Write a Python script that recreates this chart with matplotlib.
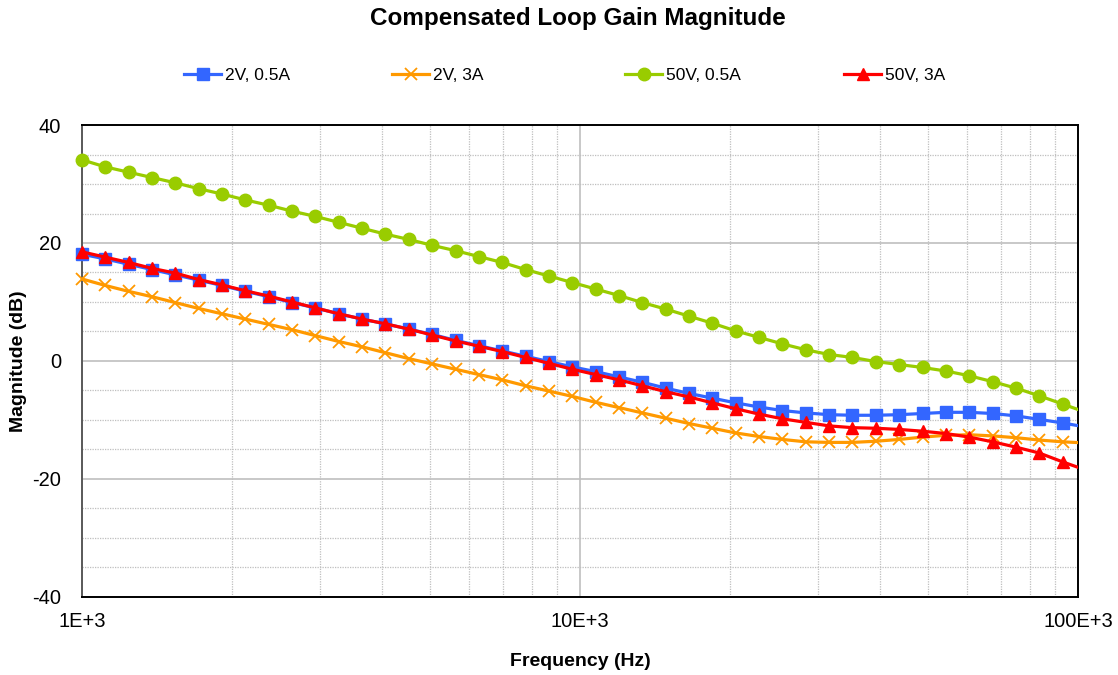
"""Compensated Loop Gain Magnitude"""

import matplotlib
matplotlib.use("Agg")
import matplotlib.pyplot as plt
from matplotlib.ticker import FixedLocator, NullFormatter

plt.rcParams['font.family'] = ['Liberation Sans', 'DejaVu Sans']
plt.rcParams['axes.unicode_minus'] = False

# 频率点 (Hz)
freq = [1000, 1114, 1241, 1382, 1540, 1716, 1911, 2129, 2372, 2642,
        2943, 3279, 3653, 4069, 4533, 5050, 5625, 6267, 6981, 7777,
        8663, 9651, 10751, 11977, 13342, 14863, 16557, 18445, 20548, 22890,
        25499, 28406, 31644, 35251, 39270, 43747, 48734, 54290, 60479, 67373,
        75054, 83610, 93141, 103759]

# 各工况的增益 (dB)
gain_2v_05a = [18.1, 17.3, 16.4, 15.5, 14.6, 13.7, 12.8, 11.8, 10.9, 9.9,
               9.0, 8.0, 7.1, 6.3, 5.4, 4.5, 3.5, 2.6, 1.7, 0.8,
               -0.1, -1.0, -1.8, -2.7, -3.6, -4.6, -5.5, -6.3, -7.1, -7.8,
               -8.4, -8.8, -9.1, -9.2, -9.2, -9.1, -8.9, -8.7, -8.7, -8.9,
               -9.3, -9.9, -10.5, -11.2]
gain_2v_3a = [13.9, 12.8, 11.8, 10.9, 9.9, 8.9, 8.0, 7.1, 6.2, 5.3,
              4.3, 3.3, 2.4, 1.4, 0.4, -0.5, -1.4, -2.3, -3.2, -4.2,
              -5.1, -6.0, -7.0, -7.9, -8.8, -9.7, -10.6, -11.4, -12.2, -12.8,
              -13.3, -13.7, -13.8, -13.8, -13.6, -13.3, -12.9, -12.6, -12.5, -12.7,
              -13.0, -13.4, -13.7, -13.9]
gain_50v_05a = [34.1, 32.9, 32.0, 31.1, 30.2, 29.2, 28.3, 27.3, 26.4, 25.4,
                24.5, 23.5, 22.5, 21.5, 20.6, 19.6, 18.7, 17.7, 16.7, 15.5,
                14.4, 13.3, 12.2, 11.1, 9.9, 8.8, 7.6, 6.4, 5.1, 4.0,
                2.9, 1.9, 1.1, 0.6, -0.1, -0.6, -1.1, -1.7, -2.5, -3.5,
                -4.6, -5.9, -7.3, -8.7]
gain_50v_3a = [18.5, 17.6, 16.7, 15.7, 14.9, 13.8, 12.9, 11.9, 11.0, 10.0,
               9.0, 8.0, 7.1, 6.3, 5.4, 4.4, 3.4, 2.5, 1.6, 0.6,
               -0.4, -1.4, -2.3, -3.2, -4.2, -5.2, -6.1, -7.1, -8.1, -9.0,
               -9.8, -10.4, -11.0, -11.3, -11.4, -11.6, -11.9, -12.3, -12.9, -13.7,
               -14.6, -15.6, -17.1, -18.5]

labels = ["2V, 0.5A", "2V, 3A", "50V, 0.5A", "50V, 3A"]
x_ticks = [1e3, 1e4, 1e5]
x_tick_labels = ["1E+3", "10E+3", "100E+3"]
y_ticks = [-40, -20, 0, 20, 40]

fig = plt.figure(figsize=(11.18, 6.75), dpi=100)
ax = fig.add_axes([0.0733, 0.1156, 0.8909, 0.6992])

lw = 2.3
# 线条裁剪在绘图区内, 标记点不裁剪 (最后一个点在 100E+3 之外, 不画标记)
styles = [
    (gain_2v_05a, '#3366FF', dict(marker='s', ms=8)),
    (gain_2v_3a, '#FF9900', dict(marker='x', ms=9, mew=1.3)),
    (gain_50v_05a, '#99CC00', dict(marker='o', ms=9)),
    (gain_50v_3a, '#FF0000', dict(marker='^', ms=9)),
]
handles = []
for i, (vals, c, mk) in enumerate(styles):
    z = 4 if i == 3 else 3
    ln, = ax.plot(freq, vals, color=c, lw=lw, zorder=z)
    pts, = ax.plot(freq, vals, color=c, ls='none', markevery=list(range(len(freq) - 1)),
                   clip_on=False, zorder=z + 0.1, **mk)
    handles.append((ln, pts))

ax.set_xscale('log')
ax.set_xlim(1e3, 1e5)
ax.set_ylim(-40, 40)
ax.set_xticks(x_ticks)
ax.set_xticklabels(x_tick_labels)
ax.xaxis.set_minor_locator(FixedLocator([m * d for d in (1e3, 1e4) for m in range(2, 10)]))
ax.xaxis.set_minor_formatter(NullFormatter())
ax.set_yticks(y_ticks)
ax.yaxis.set_minor_locator(FixedLocator([v for v in range(-35, 40, 5) if v % 20 != 0]))

# 网格线
ax.grid(which='major', color='#BFBFBF', lw=1.2, ls='-')
ax.grid(which='minor', color='#BFBFBF', lw=0.9, ls=(0, (1, 1)))
ax.set_axisbelow(True)

ax.tick_params(which='both', length=0, labelsize=14.5)
ax.tick_params(axis='x', pad=11)
ax.tick_params(axis='y', pad=15)

for side in ('top', 'right', 'bottom'):
    ax.spines[side].set_color('black')
    ax.spines[side].set_linewidth(1.4)
ax.spines['left'].set_color('#595959')
ax.spines['left'].set_linewidth(1.4)

ax.set_xlabel("Frequency (Hz)", fontsize=14, fontweight='bold', labelpad=16)
ax.set_ylabel("Magnitude (dB)", fontsize=14, fontweight='bold', labelpad=4)
fig.text(578 / 1118, 1 - 18 / 675, "Compensated Loop Gain Magnitude",
         fontsize=17.5, fontweight='bold', ha='center', va='center')

# 图例: 每项单独放置
for h, lab, x0 in zip(handles, labels, [184, 392, 625, 844]):
    fig.legend(handles=[h], labels=[lab], loc='center left',
               bbox_to_anchor=(x0 / 1118, 1 - 75 / 675),
               frameon=False, fontsize=12.5, handlelength=2.15, handletextpad=0.2,
               borderpad=0, borderaxespad=0)

fig.savefig("out.png", dpi=100)
